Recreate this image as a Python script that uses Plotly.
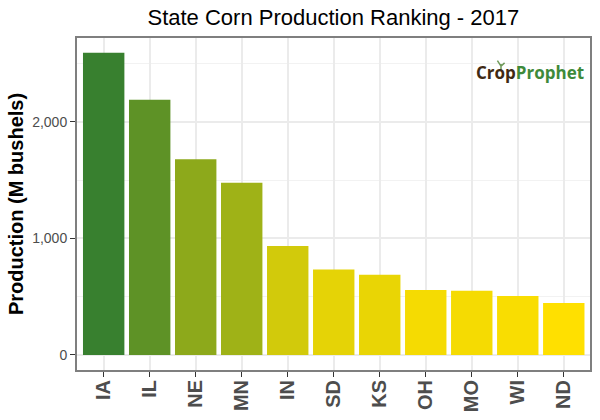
import plotly.graph_objects as go

# state production, M bushels
states = ["IA", "IL", "NE", "MN", "IN", "SD", "KS", "OH", "MO", "WI", "ND"]
production = [2595, 2190, 1680, 1478, 935, 733, 688, 558, 552, 507, 447]
y_ticks = [0, 1000, 2000]
y_tick_labels = ["0", "1,000", "2,000"]
y_minor = [500, 1500, 2500]

fig = go.Figure()
fig.add_bar(
    x=states,
    y=production,
    width=0.9,
    marker=dict(
        color=production,
        colorscale=[[0, "#ffe000"], [1, "#38802f"]],
        line_width=0,
    ),
    showlegend=False,
)

fig.update_layout(
    width=600,
    height=420,
    margin=dict(l=77, r=10, t=38, b=50),
    paper_bgcolor="white",
    plot_bgcolor="white",
    font=dict(family="Liberation Sans", color="#4d4d4d"),
    bargap=0.1,
    title=dict(
        text="State Corn Production Ranking - 2017",
        x=0.5556,
        xanchor="center",
        y=0.96,
        yanchor="middle",
        font=dict(size=22, color="black"),
    ),
)

fig.update_xaxes(
    automargin=False,
    range=[-0.58, 10.57],
    tickangle=-90,
    tickfont=dict(size=20, color="#4d4d4d", weight="bold"),
    ticklabelstandoff=-5,
    ticks="outside",
    ticklen=5,
    tickcolor="#333333",
    showgrid=True,
    gridcolor="#ebebeb",
    gridwidth=1.5,
    showline=True,
    linecolor="#7f7f7f",
    linewidth=2,
    mirror=True,
)
fig.update_yaxes(
    automargin=False,
    range=[-129, 2721],
    tickvals=y_ticks,
    ticktext=y_tick_labels,
    tickfont=dict(size=14, color="#4d4d4d"),
    ticks="outside",
    ticklen=5,
    tickcolor="#333333",
    showgrid=True,
    gridcolor="#ebebeb",
    gridwidth=1.5,
    zeroline=False,
    showline=True,
    linecolor="#7f7f7f",
    linewidth=2,
    mirror=True,
    minor=dict(tickvals=y_minor, showgrid=True, gridcolor="#f2f2f2", gridwidth=1, ticks=""),
    title=dict(
        text="Production (M bushels)",
        font=dict(size=20, color="black", weight="bold"),
        standoff=3,
    ),
)

# logo as text
fig.add_annotation(
    xref="paper", yref="paper",
    x=0.992, y=0.895,
    xanchor="right", yanchor="middle",
    showarrow=False,
    text='<b><span style="color:#3f2a14">Crop</span><span style="color:#3e8a3a">Prophet</span></b>',
    font=dict(family="Open Sans", size=17),
)
# little sprout over the o of the logo
fig.add_shape(
    type="path", xref="paper", yref="paper",
    path="M 0.8265 0.902 L 0.8265 0.922 M 0.8265 0.915 L 0.8195 0.932 M 0.8265 0.915 L 0.8335 0.925",
    line=dict(color="#6f9a5a", width=1.5),
)

fig.write_html("out.html", config=dict(displayModeBar=False), post_script="document.body.style.margin='0';")
